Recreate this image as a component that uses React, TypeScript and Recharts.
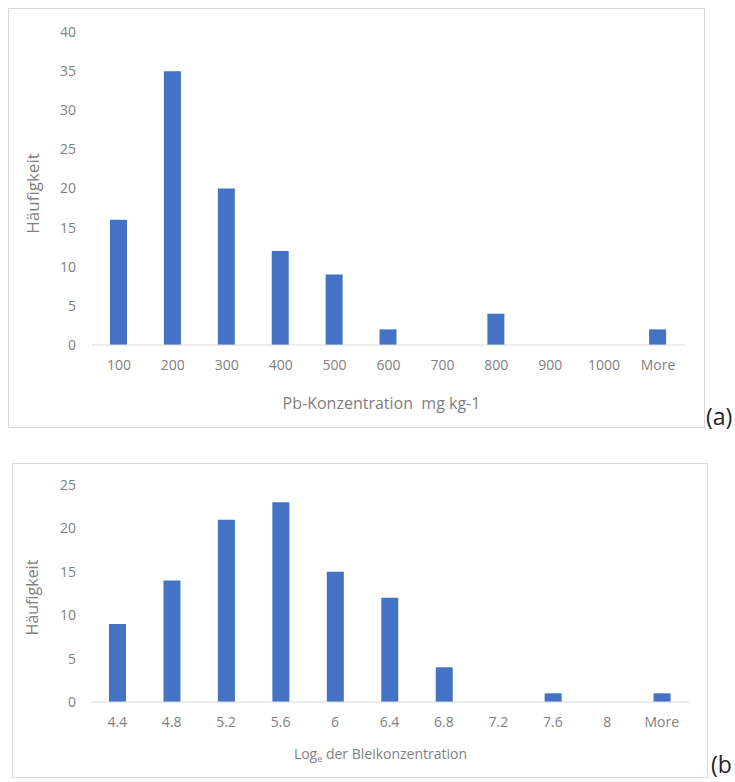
import React from "react";
import { BarChart, Bar, XAxis, YAxis, Label } from "recharts";

// panel (a): Pb concentration histogram
const binsA = ["100", "200", "300", "400", "500", "600", "700", "800", "900", "1000", "More"];
const countsA = [16, 35, 20, 12, 9, 2, 0, 4, 0, 0, 2];
const ticksA = [0, 5, 10, 15, 20, 25, 30, 35, 40];

// panel (b): log-transformed histogram
const binsB = ["4.4", "4.8", "5.2", "5.6", "6", "6.4", "6.8", "7.2", "7.6", "8", "More"];
const countsB = [9, 14, 21, 23, 15, 12, 4, 0, 1, 0, 1];
const ticksB = [0, 5, 10, 15, 20, 25];

const BLUE = "#4472C4";
const TEXT = "#7f7f7f";
const FONT = "'Open Sans', sans-serif";

const dataA = binsA.map((bin, i) => ({ bin, count: countsA[i] }));
const dataB = binsB.map((bin, i) => ({ bin, count: countsB[i] }));

function YTitle(props: any) {
  const { viewBox, text, size, dy } = props;
  const cx = viewBox.x + 32;
  const cy = viewBox.y + viewBox.height / 2 + dy;
  return (
    <text
      x={cx}
      y={cy}
      transform={`rotate(-90 ${cx} ${cy})`}
      textAnchor="middle"
      dominantBaseline="central"
      fill={TEXT}
      fontSize={size}
      fontFamily={FONT}
    >
      {text}
    </text>
  );
}

function XTitle(props: any) {
  const { viewBox, dx, base, size, children } = props;
  const cx = viewBox.x + viewBox.width / 2 + dx;
  return (
    <text
      x={cx}
      y={viewBox.y + base}
      textAnchor="middle"
      fill={TEXT}
      fontSize={size}
      fontFamily={FONT}
      style={{ whiteSpace: "pre" }}
    >
      {children}
    </text>
  );
}

const tickStyle = { fontSize: 14, fill: TEXT, fontFamily: FONT };

export default function App() {
  return (
    <div
      style={{
        position: "absolute",
        left: 0,
        top: 0,
        width: 735,
        height: 782,
        overflow: "hidden",
        background: "#fff",
        fontFamily: FONT,
      }}
    >
      <div style={{ position: "absolute", left: 8, top: 8, width: 695, height: 418, border: "1px solid #d9d9d9" }} />
      <div style={{ position: "absolute", left: 12, top: 463, width: 694, height: 313, border: "1px solid #d9d9d9" }} />

      <div style={{ position: "absolute", left: 0, top: 0 }}>
        <BarChart width={735} height={440} data={dataA} margin={{ top: 32, right: 50, left: 0, bottom: 25 }}>
          <XAxis
            dataKey="bin"
            height={70}
            tickSize={0}
            tickMargin={15}
            tick={tickStyle}
            axisLine={{ stroke: "#d9d9d9" }}
            interval={0}
          >
            <Label
              content={(p: any) => (
                <XTitle {...p} dx={-7} base={64} size={16}>
                  {"Pb-Konzentration  mg kg-1"}
                </XTitle>
              )}
            />
          </XAxis>
          <YAxis
            width={92}
            domain={[0, 40]}
            ticks={ticksA}
            tickSize={0}
            tickMargin={16}
            tick={tickStyle}
            axisLine={false}
          >
            <Label content={(p: any) => <YTitle {...p} text="Häufigkeit" size={17} dy={5} />} />
          </YAxis>
          <Bar dataKey="count" fill={BLUE} barSize={17} isAnimationActive={false} />
        </BarChart>
      </div>

      <div style={{ position: "absolute", left: 0, top: 440 }}>
        <BarChart width={735} height={342} data={dataB} margin={{ top: 45, right: 46, left: 0, bottom: 20 }}>
          <XAxis
            dataKey="bin"
            height={60}
            tickSize={0}
            tickMargin={15}
            tick={tickStyle}
            axisLine={{ stroke: "#d9d9d9" }}
            interval={0}
          >
            <Label
              content={(p: any) => (
                <XTitle {...p} dx={-9} base={57} size={14}>
                  Log
                  <tspan dy={3} fontSize={9}>e</tspan>
                  <tspan dy={-3}> der Bleikonzentration</tspan>
                </XTitle>
              )}
            />
          </XAxis>
          <YAxis
            width={90}
            domain={[0, 25]}
            ticks={ticksB}
            tickSize={0}
            tickMargin={14}
            tick={tickStyle}
            axisLine={false}
          >
            <Label content={(p: any) => <YTitle {...p} text="Häufigkeit" size={16} dy={4} />} />
          </YAxis>
          <Bar dataKey="count" fill={BLUE} barSize={17} isAnimationActive={false} />
        </BarChart>
      </div>

      <div style={{ position: "absolute", left: 706, top: 401, fontSize: 23, lineHeight: "30px", color: "#222" }}>(a)</div>
      <div style={{ position: "absolute", left: 711, top: 749, fontSize: 23, lineHeight: "30px", color: "#222" }}>(b</div>
    </div>
  );
}
